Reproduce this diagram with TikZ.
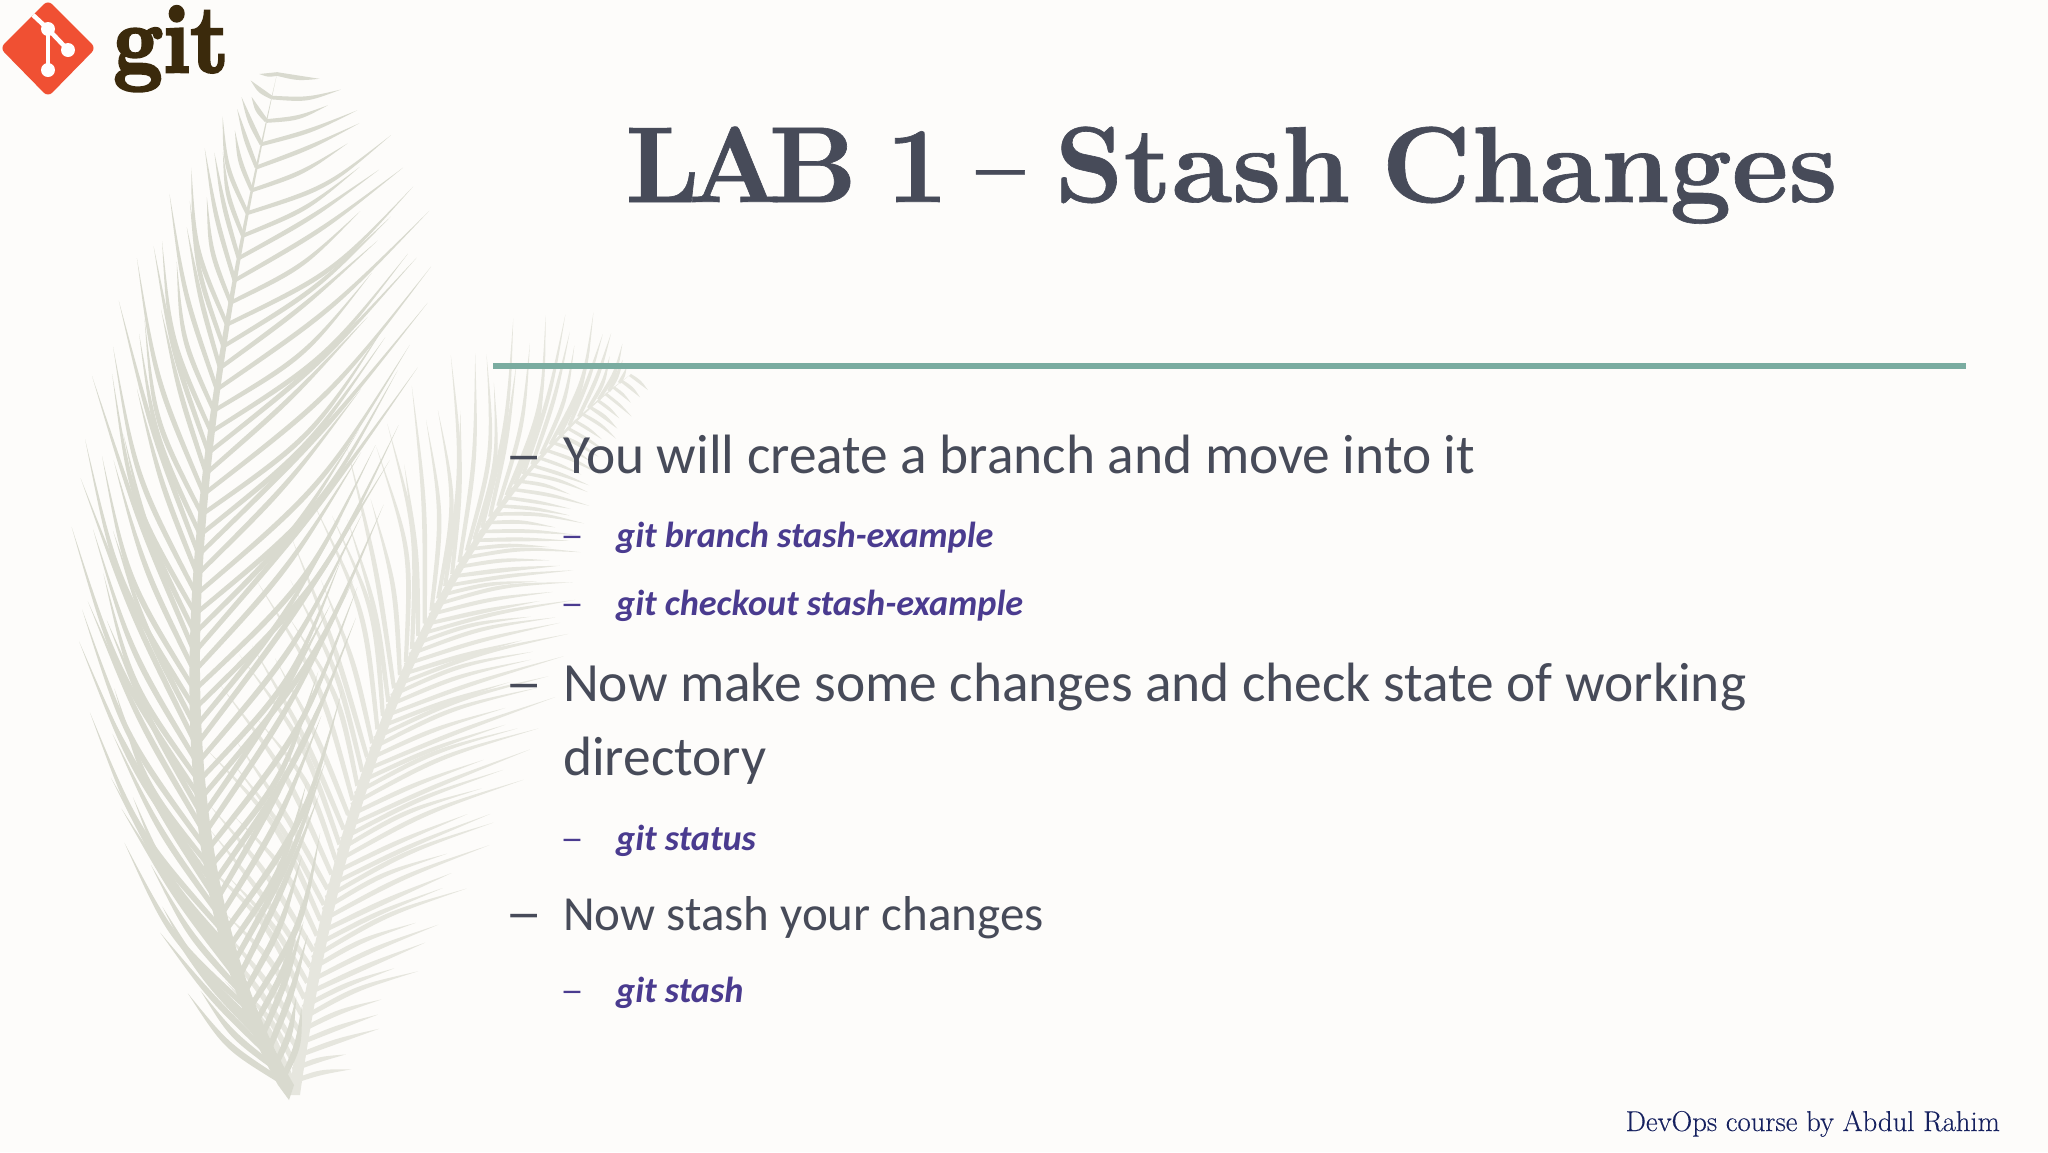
\documentclass[tikz,border=0pt]{standalone}
\usepackage{graphicx}
\usepackage{fontspec}
\setmainfont{Carlito}
\newfontfamily\gitfont[Extension=.otf,FakeBold=3]{lmroman10-bold}
\newfontfamily\titlefont[Extension=.otf,FakeBold=0.6]{lmroman10-bold}
\newfontfamily\creditfont[FakeBold=0.25]{Latin Modern Roman}
\usetikzlibrary{positioning}
\definecolor{paper}{HTML}{FDFCFA}
\definecolor{slate}{HTML}{474B59}
\definecolor{rule}{HTML}{7AACA0}
\definecolor{command}{HTML}{4A3B8F}
\definecolor{navy}{HTML}{16215F}
\definecolor{plumedark}{HTML}{D9DACF}
\definecolor{plumelight}{HTML}{E6E6DE}
\definecolor{gitred}{HTML}{F05033}
\definecolor{gitbrown}{HTML}{3B2A0C}
\pgfmathdeclarefunction{bez}{5}{%
  \pgfmathparse{(1-#1)*(1-#1)*(1-#1)*#2+3*(1-#1)*(1-#1)*#1*#3+3*(1-#1)*#1*#1*#4+#1*#1*#1*#5}}
% one row of barbs: spine x, spine y, edge x, edge y, count, bend, width
\newcommand{\barbrow}[7]{
    \foreach \i in {1,...,#5}
    {
        \pgfmathsetmacro\pos{\i/#5}
        \pgfmathsetmacro\sx{bez(\pos,#1)}
        \pgfmathsetmacro\sy{bez(\pos,#2)}
        \pgfmathsetmacro\vary{0.85+0.15*sin(\i*137)}
        \pgfmathsetmacro\ex{\sx+(bez(\pos,#3)-\sx)*\vary}
        \pgfmathsetmacro\ey{\sy+(bez(\pos,#4)-\sy)*\vary}
        \pgfmathsetmacro\len{max(veclen(\ex-\sx,\ey-\sy),1)}
        \pgfmathsetmacro\nx{-(\ey-\sy)/\len}
        \pgfmathsetmacro\ny{(\ex-\sx)/\len}
        \pgfmathsetmacro\w{#7*(1-0.35*\pos)}
        \pgfmathsetmacro\bend{#6*(1+0.6*sin(\i*77))}
        \pgfmathsetmacro\cx{(\sx+\ex)/2+\nx*\bend*\len}
        \pgfmathsetmacro\cy{(\sy+\ey)/2+\ny*\bend*\len}
        \fill (\sx+\nx*\w,\sy+\ny*\w) .. controls (\cx+\nx*\w*1.3,\cy+\ny*\w*1.3) .. (\ex,\ey)
            .. controls (\cx-\nx*\w*1.3,\cy-\ny*\w*1.3) .. (\sx-\nx*\w,\sy-\ny*\w) -- cycle;
    }
}
\tikzset{
    headline/.style={anchor=base west,text=slate,font=\titlefont\fontsize{108}{108}\selectfont},
    bigtext/.style={anchor=base west,text=slate,font=\fontsize{55.4}{55.4}\selectfont},
    bigdash/.style={bigtext,xscale=1.35},
    smalltext/.style={anchor=base west,text=slate,font=\fontsize{49}{49}\selectfont},
    cmdtext/.style={anchor=base west,text=command,font=\bfseries\itshape\fontsize{36.2}{36.2}\selectfont},
    cmddash/.style={anchor=base west,text=command,xscale=1.3,font=\fontsize{36.2}{36.2}\selectfont},
    credit/.style={anchor=base east,text=navy,font=\creditfont\fontsize{28.7}{28.7}\selectfont},
}
\begin{document}
\begin{tikzpicture}[x=1pt,y=-1pt,inner sep=0pt]
    \useasboundingbox (0,0) rectangle (2048,1152);
    \fill[paper] (0,0) rectangle (2048,1152);

    % feathers
    \begin{scope}[fill=plumelight]
        \barbrow{289,330,430,630}{1095,790,520,375}{230,59,613,630}{1000,554,140,375}{56}{0.06}{2.5}
        \barbrow{289,330,430,630}{1095,790,520,375}{340,699,497,649}{1090,570,606,391}{72}{-0.04}{2.2}
        \fill (289,1095) .. controls (330,790) and (430,520) .. (630,375)
            .. controls (436,525) and (342,795) .. (300,1095) -- cycle;
    \end{scope}
    \begin{scope}[fill=plumedark]
        \barbrow{289,150,180,277}{1095,850,500,74}{198,-80,174,255}{1020,455,182,74}{54}{-0.06}{2.8}
        \barbrow{289,150,180,277}{1095,850,500,74}{300,345,560,330}{1040,355,250,80}{54}{0.06}{2.8}
        \fill (289,1100) -- (278,1085) .. controls (146,850) and (175,500) .. (277,74)
            .. controls (185,500) and (158,850) .. (294,1085) -- cycle;
    \end{scope}

    % git logo
    \fill[gitred,rounded corners=6pt] (48,0) -- (96,48) -- (48,97) -- (0,48) -- cycle;
    \draw[white,line width=4.5pt] (33,15) -- (48,29) -- (68,50);
    \draw[white,line width=4.5pt] (48,29) -- (48,70);
    \foreach \x/\y in {48/29,68/50,48/70}
        \fill[white] (\x,\y) circle (7);
    \node[anchor=base west,text=gitbrown,font=\gitfont\fontsize{96}{96}\selectfont,
        xscale=0.9] (gitword) at (113,72) {git};

    \node[headline] (title) at (625,202) {\spaceskip=31pt L\kern-12pt A\kern-13pt B\kern-2pt\ 1\kern-3pt\ \scalebox{0.78}[1]{–}\kern-1pt\ Stash Changes};
    \draw[rule,line width=6pt] (493,366) -- (1966,366);

    \node[bigdash] (dash1) at (505,473) {–};
    \node[bigtext] (step1) at (563,473) {You will create a branch and move into it};
    \node[cmddash] (dash2) at (560,547) {–};
    \node[cmdtext] (cmd1) at (616,547) {git branch stash-example};
    \node[cmddash] (dash3) at (560,615) {–};
    \node[cmdtext] (cmd2) at (616,615) {git checkout stash-example};
    \node[bigdash] (dash4) at (505,701) {–};
    \node[bigtext] (step2) at (563,701) {Now make some changes and check state of working};
    \node[bigtext] (step2b) at (563,775) {directory};
    \node[cmddash] (dash5) at (560,850) {–};
    \node[cmdtext] (cmd3) at (616,850) {git status};
    \node[bigdash] (dash6) at (505,931) {–};
    \node[smalltext] (step3) at (563,930) {Now stash your changes};
    \node[cmddash] (dash7) at (560,1002) {–};
    \node[cmdtext] (cmd4) at (616,1002) {git stash};

    \node[credit] (byline) at (2000,1131) {DevOps course by Abdul Rahim};
\end{tikzpicture}
\end{document}
